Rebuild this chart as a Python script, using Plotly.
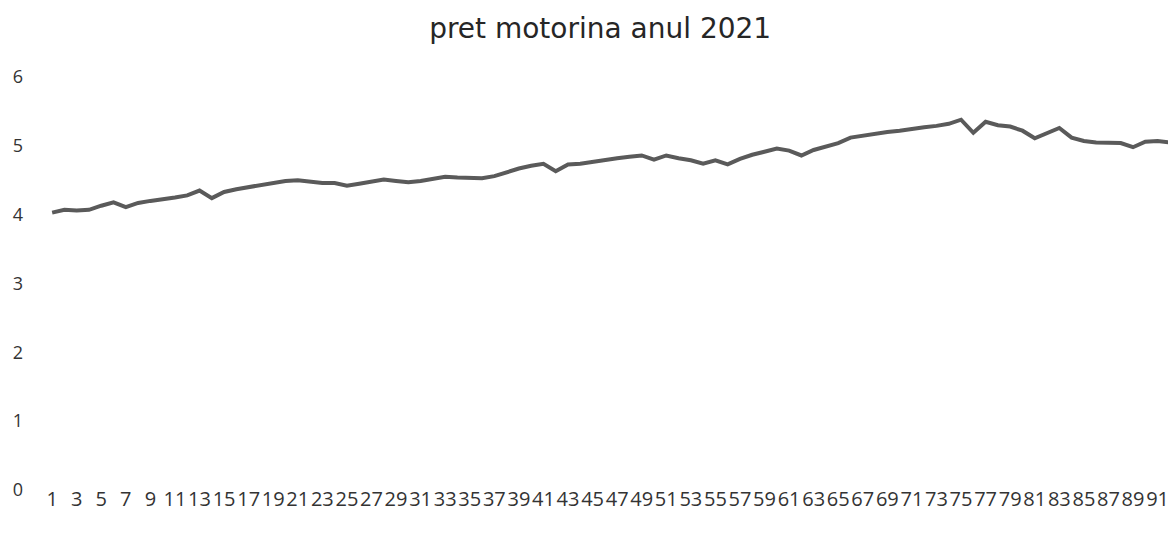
import plotly.graph_objects as go

days = list(range(1, 93))
prices = [
    4.03, 4.07, 4.06, 4.07, 4.13, 4.18, 4.11, 4.17, 4.20, 4.22,
    4.25, 4.28, 4.35, 4.24, 4.33, 4.37, 4.40, 4.42, 4.45, 4.49,
    4.50, 4.48, 4.46, 4.46, 4.42, 4.45, 4.48, 4.51, 4.49, 4.47,
    4.49, 4.52, 4.55, 4.54, 4.53, 4.53, 4.56, 4.62, 4.67, 4.71,
    4.74, 4.63, 4.73, 4.74, 4.77, 4.80, 4.82, 4.84, 4.86, 4.80,
    4.86, 4.82, 4.79, 4.74, 4.79, 4.73, 4.81, 4.87, 4.91, 4.96,
    4.93, 4.86, 4.94, 4.99, 5.04, 5.12, 5.15, 5.17, 5.20, 5.22,
    5.25, 5.27, 5.29, 5.32, 5.38, 5.19, 5.35, 5.30, 5.28, 5.22,
    5.11, 5.19, 5.26, 5.12, 5.07, 5.05, 5.05, 5.04, 4.98, 5.06,
    5.07, 5.05,
]
x_tick_vals = list(range(1, 93, 2))
x_tick_text = [str(v) for v in x_tick_vals]
y_tick_vals = [0, 1, 2, 3, 4, 5, 6]

fig = go.Figure()
fig.add_trace(go.Scatter(
    x=days, y=prices, mode="lines",
    line=dict(color="#5a5a5a", width=4),
    showlegend=False,
))

fig.update_layout(
    width=1168, height=530,
    paper_bgcolor="white", plot_bgcolor="white",
    margin=dict(l=38, r=0, t=69, b=48),
    title=dict(text="pret motorina anul 2021", x=0.507, xanchor="center",
               y=0.962, yanchor="middle",
               font=dict(family="DejaVu Sans", size=28, color="#262626")),
    font=dict(family="Open Sans", color="#333333"),
)
fig.update_xaxes(
    range=[0.5, 92.5], tickvals=x_tick_vals, ticktext=x_tick_text,
    tickangle=0, showgrid=False, zeroline=False, showline=False,
    ticks="", ticklabelstandoff=-5, tickfont=dict(size=20, color="#333333"),
)
fig.update_yaxes(
    range=[0, 6], tickvals=y_tick_vals, showgrid=False, zeroline=False,
    showline=False, ticks="", ticklabelstandoff=22,
    tickfont=dict(size=18, color="#333333"),
)

fig.write_html("out.html")
